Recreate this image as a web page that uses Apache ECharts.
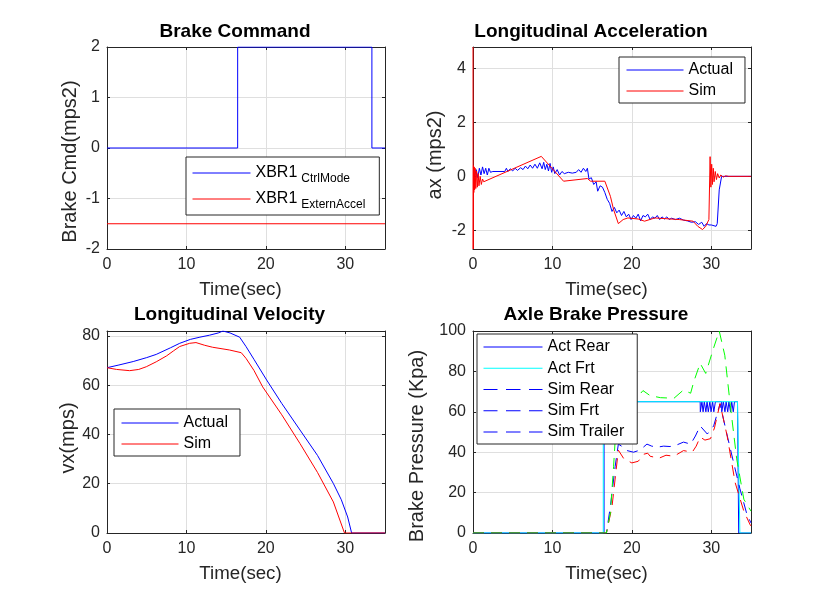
<!DOCTYPE html>
<html>
<head>
<meta charset="utf-8">
<script src="https://cdn.jsdelivr.net/npm/echarts@6/dist/echarts.min.js"></script>
<style>
html,body{margin:0;padding:0;background:#fff;}
#c{width:830px;height:602px;}
</style>
</head>
<body>
<div id="c"></div>
<script>
// ---------------- DATA ----------------
const xTicks = [0, 10, 20, 30];

// Brake Command
const xbrCtrlMode = [[0,0],[16.45,0],[16.45,2],[33.35,2],[33.35,0],[35,0]];
const xbrExternAccel = [[0,-1.5],[35,-1.5]];

// Longitudinal Acceleration
const axActual = [[0.2,0],[0.4,0.25],[0.6,-0.05],[0.8,0.3],[1.0,0.05],[1.2,0.35],[1.4,0.1],[1.6,0.3],[1.8,0.05],[2.0,0.3],[2.2,0.15],[2.5,0.18],[4.0,0.18],[4.2,0.3],[4.4,0.18],[4.7,0.28],[5.0,0.2],[5.3,0.3],[5.6,0.22],[6.0,0.32],[6.3,0.25],[6.6,0.38],[6.9,0.28],[7.2,0.42],[7.5,0.3],[7.8,0.45],[8.1,0.3],[8.4,0.5],[8.7,0.28],[8.9,0.52],[9.1,0.25],[9.3,0.45],[9.5,0.2],[9.7,0.48],[9.9,0.15],[10.1,0.35],[10.3,0.1],[10.6,0.25],[10.9,0.05],[11.2,0.18],[11.5,0.1],[12.0,0.15],[12.5,0.12],[13.0,0.15],[13.3,0.25],[13.6,0.15],[13.9,0.3],[14.2,0.18],[14.4,0.3],[14.6,-0.1],[14.9,-0.05],[15.2,-0.3],[15.5,-0.2],[15.7,-0.55],[16.0,-0.35],[16.3,-0.4],[16.6,-0.6],[16.9,-0.85],[17.2,-1.0],[17.5,-1.3],[17.8,-1.15],[18.1,-1.35],[18.4,-1.25],[18.7,-1.45],[19.0,-1.3],[19.3,-1.5],[19.6,-1.4],[19.9,-1.6],[20.2,-1.45],[20.5,-1.55],[20.8,-1.4],[21.1,-1.65],[21.4,-1.45],[21.7,-1.5],[22.0,-1.4],[22.3,-1.6],[22.6,-1.5],[22.9,-1.55],[23.2,-1.45],[23.5,-1.6],[23.8,-1.5],[24.1,-1.58],[24.4,-1.5],[24.7,-1.6],[25.0,-1.55],[25.5,-1.6],[26.0,-1.55],[26.5,-1.62],[27.0,-1.65],[27.5,-1.7],[28.0,-1.68],[28.4,-1.78],[28.8,-1.7],[29.1,-1.85],[29.4,-1.75],[29.7,-1.8],[30.0,-1.8],[30.6,-1.85],[30.75,-1.75],[31.0,-0.5],[31.3,0.0],[35,0.0]];
const axSim = [[0,4.79],[0.02,-2.69],[0.06,0.4],[0.1,-0.6],[0.15,0.35],[0.2,-0.5],[0.27,0.3],[0.35,-0.45],[0.45,0.2],[0.55,-0.4],[0.65,0.1],[0.75,-0.35],[0.9,0.0],[1.05,-0.3],[1.2,-0.1],[1.35,-0.2],[8.6,0.74],[11.4,-0.18],[14.4,-0.08],[14.8,-0.18],[16.6,-0.18],[17.3,-0.74],[17.7,-1.23],[18.3,-1.75],[18.9,-1.6],[19.5,-1.54],[20.8,-1.58],[21.6,-1.66],[22.9,-1.54],[26.0,-1.6],[27.7,-1.66],[28.3,-1.85],[28.9,-1.97],[29.3,-1.85],[29.7,-1.6],[29.85,0.73],[29.95,-0.4],[30.05,0.45],[30.15,-0.3],[30.25,0.3],[30.35,-0.2],[30.5,0.18],[30.65,-0.12],[30.8,0.1],[31.0,-0.06],[31.2,0.05],[31.5,-0.03],[31.8,0.02],[32.2,0],[35,0]];

// Longitudinal Velocity
const vxActual = [[0,67.1],[1.5,68.2],[3.3,69.6],[5,71.2],[6.2,72.5],[8,75.2],[9.15,77.0],[10.5,78.6],[11.7,79.5],[12.9,80.3],[14,81.2],[14.6,82.0],[15.5,81.2],[16.7,79.5],[17.5,75.7],[18.5,70.5],[20.1,62.1],[22,52.6],[24.3,41.8],[26.5,31.5],[28.5,20.1],[29.5,13.5],[30.3,6.5],[30.8,0],[35,0]];
const vxSim = [[0,67.1],[1.2,66.4],[2.85,65.9],[4,66.4],[4.95,67.5],[6.2,69.5],[7.5,71.9],[8.4,74],[9.15,75.7],[10.4,77.0],[11.2,77.3],[12.3,76.2],[13.3,75.4],[15.4,74.3],[16.9,73.2],[17.5,70.9],[18.5,66],[19.6,59.3],[22,48.0],[24.3,36.3],[26.5,24.6],[28.5,12.6],[29.9,0],[35,0]];

// Axle Brake Pressure
const actRear = [[0,0],[16.5,0],[16.5,60],[16.7,60],[16.72,65],[16.85,65],[16.87,60],[17.9,60],[17.92,65],[18.0,65],[18.02,60],[18.25,60],[18.27,65],[18.35,65],[18.37,60],[18.6,60],[18.62,65],[18.7,65],[18.72,60],[18.95,60],[18.97,65],[19.05,65],[19.07,60],[19.3,60],[19.32,65],[28.6,65],[28.62,60],[28.8,60],[28.82,65],[28.95,65],[28.97,60],[29.1,60],[29.12,65],[29.3,65],[29.32,60],[29.45,60],[29.47,65],[29.6,65],[29.62,60],[29.8,60],[29.82,65],[29.95,65],[29.97,60],[30.15,60],[30.17,65],[30.3,65],[30.32,60],[30.5,60],[30.52,65],[31.3,65],[31.32,60],[31.5,60],[31.52,65],[31.7,65],[31.72,60],[31.85,60],[31.87,65],[32.05,65],[32.07,60],[32.2,60],[32.22,65],[32.4,65],[32.42,60],[32.55,60],[32.57,65],[32.75,65],[32.77,60],[32.9,60],[32.92,65],[33.3,65],[33.45,0],[35,0]];
const actFrt = [[0,0],[16.4,0],[16.4,60],[19.6,60],[19.6,65],[33.3,65],[33.6,0],[35,0]];
const simRear = [[0,0],[16.8,0],[17.3,13.3],[17.9,33],[18.3,44],[18.7,43],[19.4,40.8],[20.2,40],[21.0,41],[21.9,44],[22.5,43],[23.2,42.5],[24.0,43],[24.8,42.8],[25.6,43.5],[26.5,45],[27.4,44],[28.0,48],[28.6,53],[29.5,49],[30.3,53],[31.1,64],[31.9,50],[32.8,35],[33.6,22],[34.5,9],[35,5]];
const simFrt = [[0,0],[16.8,0],[17.5,13],[18.3,41],[19.0,36.7],[20.0,34.7],[20.8,35.5],[21.5,39],[22.0,39.5],[22.3,38],[23.4,37],[24.3,38.5],[25.3,38],[26.5,40.8],[27.6,40],[28.1,43],[28.6,47.5],[29.2,46],[29.9,46.7],[30.4,52],[31.1,64],[32.0,48],[33.0,25],[34.1,10.8],[34.9,4],[35,3.5]];
const simTrailer = [[0,0],[16.8,0],[17.3,10],[17.7,33],[18.3,72],[18.9,63],[19.8,62],[20.2,65],[21.4,70.5],[22.3,68],[23.6,67],[25.3,66.7],[26.5,70.8],[27.4,69.2],[27.8,75],[28.6,84],[29.3,79],[30.3,91.7],[31.0,100],[31.7,88],[32.4,63],[33.2,36.7],[34.1,16.7],[35,10.8]];

// ---------------- STYLE ----------------
const FONT = '"Liberation Sans", Arial, Helvetica, sans-serif';
const INK = '#262626';
const GRIDC = '#dfdfdf';
const TICKF = 16, XLABF = 18.7, YLABF = 20, TITF = 19, LEGF = 16;
const PLOT_DASH = [11, 7];
// legend marker for the dashed "Sim" entries: three dashes in a 59 x 1 box
const DASH_ICON = 'path://M0,0h14v1h-14zM22.5,0h14.5v1h-14.5zM45.5,0h13.5v1h-13.5z';
function noSym() { return {color:'rgba(0,0,0,0)', borderWidth:0, opacity:0}; }

function stepFmt(step) {
  return function (v) {
    const r = v / step;
    return Math.abs(r - Math.round(r)) < 1e-6 ? String(Math.round(v * 1000) / 1000) : '';
  };
}

const grids = [
  {left:107, top:47, width:278, height:202},
  {left:473, top:47, width:278, height:202},
  {left:107, top:331, width:278, height:202},
  {left:473, top:331, width:278, height:202}
];

const yCfg = [
  {min:-2, max:2, interval:1, step:1, name:'Brake Cmd(mps2)', gap:26.5, shift:27},
  {min:-2.69, max:4.79, splitNumber:4, step:2, name:'ax (mps2)', gap:27.5, shift:14},
  {min:0, max:82, interval:20, step:20, name:'vx(mps)', gap:26.5, shift:12},
  {min:0, max:100, interval:20, step:20, name:'Brake Pressure (Kpa)', gap:45.5, shift:28}
];

const xAxes = [], yAxes = [];
grids.forEach(function (g, gi) {
  const xb = {
    gridIndex: gi, type:'value', min:0, max:35, interval:10,
    axisLine:{show:true, onZero:false, lineStyle:{color:INK, width:1}},
    axisTick:{show:true, inside:true, length:3, lineStyle:{color:INK, width:1}}
  };
  xAxes.push(Object.assign({}, xb, {
    position:'bottom', name:'Time(sec)', nameLocation:'middle', nameGap:31,
    nameTextStyle:{fontFamily:FONT, fontSize:XLABF, color:INK, padding:[0,11,0,0]},
    axisLabel:{show:true, margin:8, fontFamily:FONT, fontSize:TICKF, color:INK, formatter: stepFmt(10)},
    splitLine:{show:true, lineStyle:{color:GRIDC, width:1}}
  }));
  xAxes.push(Object.assign({}, xb, {position:'top', axisLabel:{show:false}, splitLine:{show:false}}));

  const c = yCfg[gi];
  const yb = {
    gridIndex: gi, type:'value', min:c.min, max:c.max,
    axisLine:{show:true, onZero:false, lineStyle:{color:INK, width:1}},
    axisTick:{show:true, inside:true, length:3, lineStyle:{color:INK, width:1}}
  };
  if (c.interval) yb.interval = c.interval; else yb.splitNumber = c.splitNumber;
  yAxes.push(Object.assign({}, yb, {
    position:'left', name:c.name, nameLocation:'middle', nameGap:c.gap,
    nameTextStyle:{fontFamily:FONT, fontSize:YLABF, color:INK, padding:[0, c.shift, 0, 0]},
    axisLabel:{show:true, margin:7, fontFamily:FONT, fontSize:TICKF, color:INK, formatter: stepFmt(c.step)},
    splitLine:{show:true, lineStyle:{color:GRIDC, width:1}}
  }));
  yAxes.push(Object.assign({}, yb, {position:'right', name:'', axisLabel:{show:false}, splitLine:{show:false}}));
});

function line(name, gi, data, color, dashed) {
  return {
    name: name, type:'line', xAxisIndex: 2*gi, yAxisIndex: 2*gi,
    data: data, symbol:'none', showSymbol:false, animation:false, silent:true,
    lineStyle:{color:color, width:1, type: dashed ? PLOT_DASH : 'solid'},
    itemStyle:{color:color}
  };
}

const series = [
  line('XBR1_CtrlMode', 0, xbrCtrlMode, '#0000ff'),
  line('XBR1_ExternAccel', 0, xbrExternAccel, '#ff0000'),
  line('Actual', 1, axActual, '#0000ff'),
  line('Sim', 1, axSim, '#ff0000'),
  line('Actual', 2, vxActual, '#0000ff'),
  line('Sim', 2, vxSim, '#ff0000'),
  line('Act Rear', 3, actRear, '#0000ff'),
  line('Act Frt', 3, actFrt, '#00ffff'),
  line('Sim Rear', 3, simRear, '#0000ff', true),
  line('Sim Frt', 3, simFrt, '#ff0000', true),
  line('Sim Trailer', 3, simTrailer, '#00ff00', true)
];

function legendBase(left, top, padding, itemWidth, gap) {
  return {
    orient:'vertical', left:left, top:top, padding:padding,
    itemWidth:itemWidth, itemHeight:16, itemGap:gap,
    borderColor:INK, borderWidth:1, borderRadius:0, backgroundColor:'#fff',
    selectedMode:false,
    itemStyle: noSym(),
    lineStyle: {width:1},
    textStyle:{fontFamily:FONT, fontSize:LEGF, color:'#000', lineHeight:16}
  };
}

// In the reference all three "Sim" legend entries are blue dashed lines
function blueDashItem(name) {
  return {
    name: name, icon: DASH_ICON, symbolKeepAspect: true,
    itemStyle: {color:'#0000ff', opacity:1, borderWidth:0}
  };
}

const legTL = Object.assign(legendBase(186, 157, [4,14,4,6], 58, 2), {
  itemHeight: 14,
  data:['XBR1_CtrlMode','XBR1_ExternAccel'],
  formatter: function (n) { return '{m|XBR1}{s|' + n.split('_')[1] + '}'; },
  textStyle:{fontFamily:FONT, fontSize:LEGF, color:'#000',
    rich:{
      m:{fontFamily:FONT, fontSize:16, lineHeight:20, color:'#000'},
      s:{fontFamily:FONT, fontSize:12, lineHeight:14, padding:[12,0,0,4], color:'#000'}
    }}
});
const legTR = Object.assign(legendBase(619, 57, [5,12,4,7], 57, 5), {data:['Actual','Sim']});
const legBL = Object.assign(legendBase(114, 409, [6,12,4,7], 57, 5), {data:['Actual','Sim']});
const legBR = Object.assign(legendBase(477, 334, [5,13,4,6], 59, 5.25), {
  symbolKeepAspect: true,
  data:['Act Rear', 'Act Frt', blueDashItem('Sim Rear'), blueDashItem('Sim Frt'), blueDashItem('Sim Trailer')]
});

const titles = [
  {text:'Brake Command', x:235, y:31.5},
  {text:'Longitudinal Acceleration', x:591, y:31.5},
  {text:'Longitudinal Velocity', x:229.5, y:315},
  {text:'Axle Brake Pressure', x:596, y:315}
];

const chart = echarts.init(document.getElementById('c'), null, {renderer:'canvas'});
chart.setOption({
  backgroundColor:'#fff',
  animation:false,
  grid: grids.map(function (g) { return Object.assign({containLabel:false, outerBoundsMode:'none'}, g); }),
  xAxis: xAxes,
  yAxis: yAxes,
  legend: [legTL, legTR, legBL, legBR],
  series: series,
  graphic: titles.map(function (t) {
    return {type:'text', x:t.x, y:t.y, silent:true, z:100,
      style:{text:t.text, align:'center', verticalAlign:'middle',
        fontFamily:FONT, fontSize:TITF, fontWeight:'bold', fill:'#000'}};
  })
});
</script>
</body>
</html>
